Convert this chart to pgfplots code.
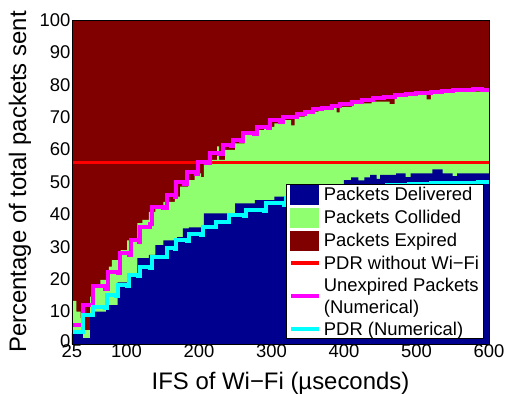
\documentclass[border=0pt]{standalone}
\usepackage{fontspec}
\setmainfont{Liberation Sans}
\usepackage{pgfplots}
\pgfplotsset{compat=1.18}
\definecolor{cblue}{rgb}{0,0,0.5625}
\definecolor{cgreen}{rgb}{0.5625,1,0.4375}
\definecolor{cred}{rgb}{0.5,0,0}
\definecolor{cline}{rgb}{1,0,0}
\definecolor{cmag}{rgb}{1,0,1}
\definecolor{ccyan}{rgb}{0,1,1}
\newcommand{\st}{\rule[-4.5bp]{0pt}{18.5bp}}
\begin{document}
\begin{tikzpicture}
\begin{axis}[
 at={(0,0)}, anchor=south west,
 scale only axis, width=417bp, height=324bp,
 xmin=25, xmax=600, ymin=0, ymax=100,
 xtick={25,100,200,300,400,500,600},
 ytick={0,10,...,100},
 yticklabels={\raisebox{6bp}{0},10,20,30,40,50,60,70,80,90,100},
 tick style={draw=none},
 axis on top,
 axis line style={black, line width=0.6bp},
 /pgf/number format/assume math mode=true,
 tick label style={font=\fontsize{18.5}{20}\selectfont},
 xticklabel style={anchor=base, yshift=-13.7bp, inner sep=0pt},
 yticklabel style={anchor=east, inner sep=0pt, xshift=-1.5bp},
 xlabel={IFS of Wi−Fi (µseconds)},
 ylabel={Percentage of total packets sent},
 label style={font=\fontsize{24}{26}\selectfont},
 xlabel style={at={(axis description cs:0.5,-0.1389)}, anchor=base, inner sep=0pt},
 ylabel style={at={(axis description cs:-0.1103,0.5)}, anchor=base, inner sep=0pt},
 legend style={at={(axis description cs:0.988,0.0154)}, anchor=south east, draw=black, line width=0.8bp, fill=white, font=\fontsize{18.5}{22.5}\selectfont, inner xsep=3bp, inner ysep=0.5bp, row sep=3.2bp, column sep=1.8bp, nodes={inner sep=1.5bp}, cells={align=left}},
 legend cell align=left,
]
\addplot[fill=cred, draw=none, forget plot] coordinates {(25,100) (600,100)} \closedcycle;
\addplot[const plot, fill=cgreen, draw=none, forget plot] coordinates {
(25,13.3) (31,10) (37,8) (40,4.3) (50,14.6) (54,17.5) (64,19.8) (76,23.9) (80,25.9) (92,29) (101,32) (115,37.3) (122,38.3) (131,40.8) (140,42.4) (151,43.9) (167,45.5) (174,48.6) (185,50.6) (194,52.7) (203,51.5) (207,55.8) (217,56.8) (225,61) (228,56.8) (236,59.9) (250,61.9) (263,65) (279,66) (290,67) (304,68.1) (319,69.1) (327,67.5) (332,70.2) (346,71.7) (365,72.2) (383,73.2) (390,71.5) (394,73.2) (411,74.3) (438,74.8) (463,74) (470,76.9) (480,77.4) (514,75.5) (520,77.4) (548,77.9) (600,77.9)
} \closedcycle;
\addplot[const plot, fill=cblue, draw=none, forget plot] coordinates {
(25,3.3) (40,1.8) (50,9) (54,10) (72,12) (88,19) (102,21.9) (115,26.5) (131,27.5) (140,30.5) (151,32) (170,33) (178,35.7) (186,36) (207,40.3) (250,43.4) (277,44.4) (304,45.5) (325,46.5) (350,47.5) (375,48.5) (400,50.6) (410,51.4) (420,50.5) (428,51.4) (436,52.2) (445,51) (450,52.2) (472,52.7) (485,51.5) (492,52.7) (522,53.9) (536,52.7) (550,51.8) (556,52.7) (600,52.7)
} \closedcycle;
\addplot[cline, line width=3.5bp, forget plot] coordinates {(25,56) (600,56)};
\addplot[const plot, cmag, line width=4bp, forget plot] coordinates {
(25,5.9) (40,12) (54,17.9) (70,17) (75,22.3) (88,22) (91,28) (104,27.5) (106,32) (117,31.5) (119,36) (132,37) (135,42.4) (150,42) (156,46) (167,45.5) (169,50) (180,49.5) (183,53) (196,52.5) (199,56.3) (210,56) (215,58.8) (228,58.5) (233,61.4) (244,61) (247,63) (258,62.7) (261,65) (276,64.7) (280,67) (295,66.7) (298,69) (312,68.5) (316,70) (335,71) (346,71.7) (358,72.4) (370,72.7) (383,73.5) (395,74.1) (411,74.8) (425,75.3) (440,76) (455,76.3) (470,76.8) (485,77.2) (500,77.5) (520,77.7) (535,78) (550,78.4) (565,78.5) (578,78.8) (590,78.4) (600,78.2)
};
\addplot[const plot, ccyan, line width=4bp, forget plot] coordinates {
(25,3.8) (40,9) (54,11.5) (70,11) (73,15) (86,14.7) (89,18.2) (101,18) (104,21.3) (116,21) (119,23.9) (132,23.6) (135,27) (153,26.7) (156,29.5) (167,29.3) (169,32) (184,31.7) (187,34) (203,33.7) (206,36.2) (221,36) (224,37.7) (239,37.5) (242,39.8) (262,39.5) (265,41.4) (290,41.2) (293,43.4) (318,43) (320,45) (345,46) (370,47) (400,47.8) (430,48.5) (460,49) (490,49.3) (520,49.6) (555,49.8) (585,50) (600,50)
};
\addlegendimage{legend image code/.code={\fill[cblue] (0bp,-9.5bp) rectangle (28bp,9.5bp);}}
\addlegendentry{\st Packets Delivered}
\addlegendimage{legend image code/.code={\fill[cgreen] (0bp,-9.5bp) rectangle (28bp,9.5bp);}}
\addlegendentry{\st Packets Collided}
\addlegendimage{legend image code/.code={\fill[cred] (0bp,-9.5bp) rectangle (28bp,9.5bp);}}
\addlegendentry{\st Packets Expired}
\addlegendimage{legend image code/.code={\draw[cline, line width=3.5bp] (0bp,0bp) -- (28bp,0bp);}}
\addlegendentry{\st PDR without Wi−Fi}
\addlegendimage{legend image code/.code={\draw[cmag, line width=3.5bp] (0bp,0bp) -- (28bp,0bp);}}
\addlegendentry{\st Unexpired Packets\\\st(Numerical)}
\addlegendimage{legend image code/.code={\draw[ccyan, line width=3.5bp] (0bp,0bp) -- (28bp,0bp);}}
\addlegendentry{\st PDR (Numerical)}
\end{axis}
\pgfresetboundingbox
\path[use as bounding box] (-72bp,-50bp) rectangle (439bp,344bp);
\end{tikzpicture}
\end{document}
